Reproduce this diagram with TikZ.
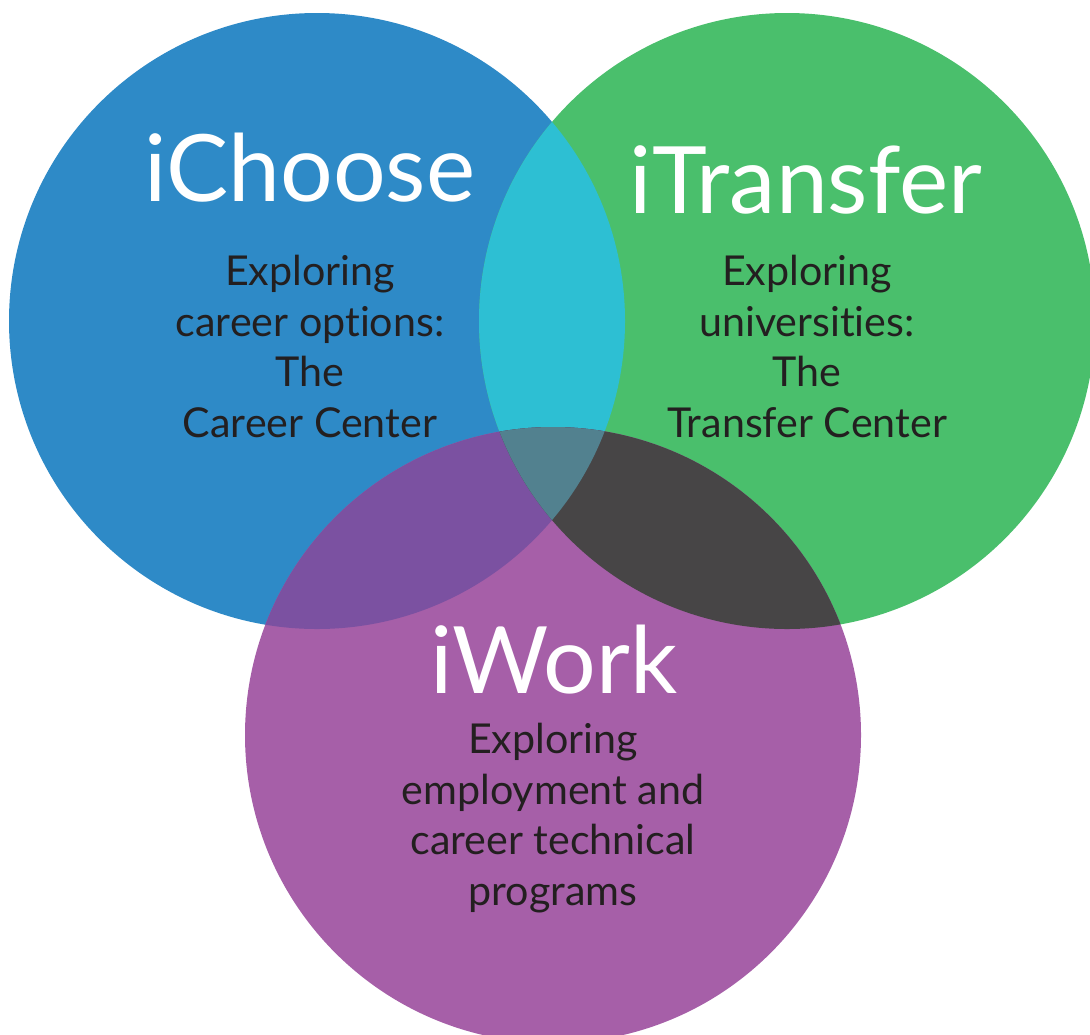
\documentclass[tikz,border=0pt]{standalone}
\usepackage{fontspec}
\setmainfont{Lato}[Ligatures={NoCommon}]
\usepackage{xcolor}
\usetikzlibrary{positioning}
\definecolor{chooseblue}{RGB}{46, 138, 199}
\definecolor{transfergreen}{RGB}{74, 191, 108}
\definecolor{workpurple}{RGB}{166, 95, 168}
\definecolor{cyanmix}{RGB}{45, 191, 211}
\definecolor{violetmix}{RGB}{123, 81, 161}
\definecolor{graymix}{RGB}{71, 69, 70}
\definecolor{tealmix}{RGB}{82, 129, 143}
\definecolor{inkdark}{RGB}{35, 31, 32}
\tikzset{
    title/.style={font=\fontsize{46.5}{46.5}\selectfont, text=white, inner sep=0pt, anchor=base},
    blurb/.style={font=\fontsize{20.6}{25.2}\selectfont, text=inkdark, align=center, inner sep=0pt, anchor=base},
}

\begin{document}
\begin{tikzpicture}[x=0.5pt, y=-0.5pt]
    \useasboundingbox (0,0) rectangle (1090,1034);
    \clip (0,0) rectangle (1090,1034);
    \def\rad{308}
    \coordinate (choose) at (317,321);
    \coordinate (transfer) at (787,321);
    \coordinate (work) at (553,735);
    % the three sets
    \fill[chooseblue] (choose) circle (\rad);
    \fill[transfergreen] (transfer) circle (\rad);
    \fill[workpurple] (work) circle (\rad);
    % overlaps
    \begin{scope}
        \clip (choose) circle (\rad);
        \fill[cyanmix] (transfer) circle (\rad);
        \fill[violetmix] (work) circle (\rad);
    \end{scope}
    \begin{scope}
        \clip (transfer) circle (\rad);
        \fill[graymix] (work) circle (\rad);
    \end{scope}
    \begin{scope}
        \clip (choose) circle (\rad);
        \clip (transfer) circle (\rad);
        \fill[tealmix] (work) circle (\rad);
    \end{scope}
    % labels (blurbs sit on their last line)
    \node[title] (chooseT) at (310,201) {iChoose};
    \node[title] (transferT) at (806,213) {iTransfer};
    \node[title] (workT) at (554,693) {iWork};
    \node[blurb] (chooseB) at (310,437) {Exploring\\career options:\\The\\Career Center};
    \node[blurb] (transferB) at (807,437) {Exploring\\universities:\\The\\Transfer Center};
    \node[blurb] (workB) at (553,905) {Exploring\\employment and\\career technical\\programs};
\end{tikzpicture}
\end{document}
